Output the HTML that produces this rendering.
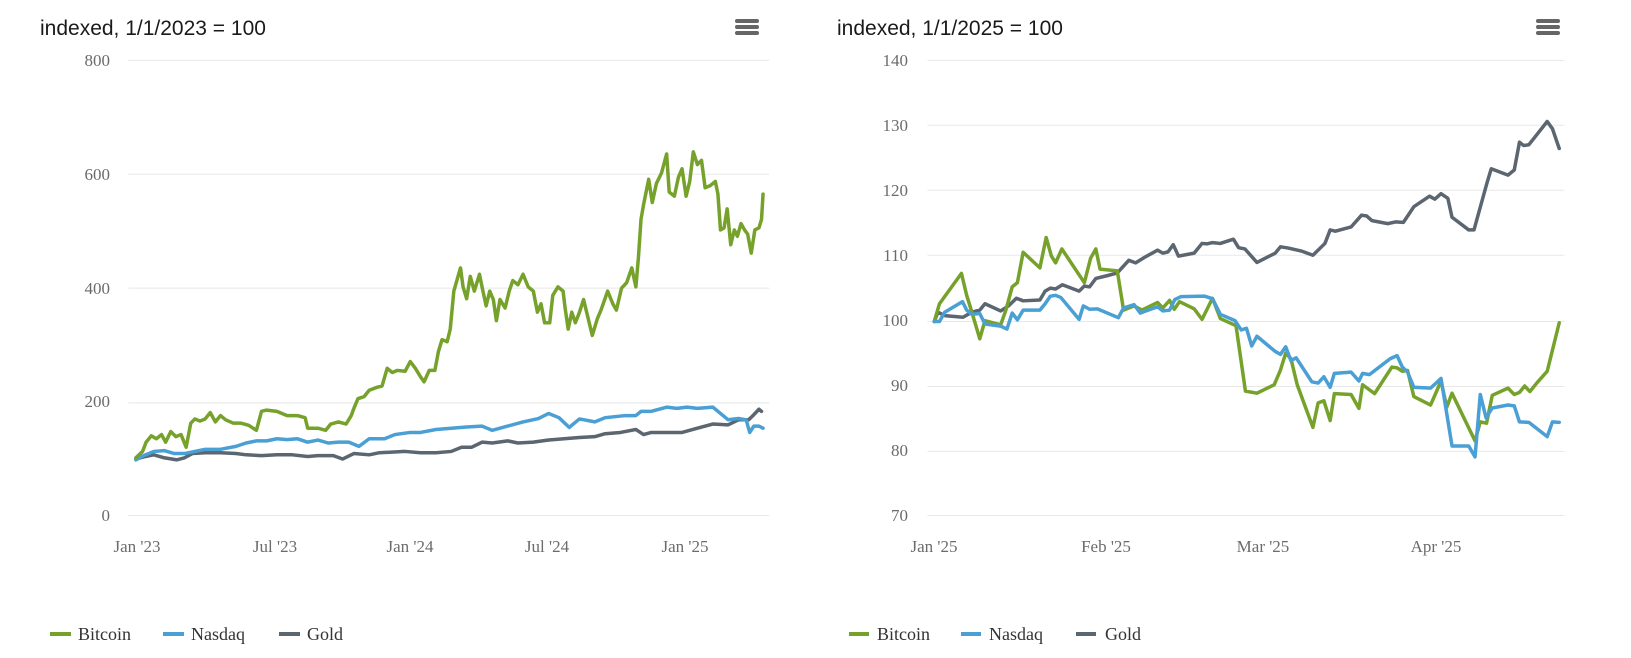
<!DOCTYPE html>
<html><head><meta charset="utf-8"><style>
html,body{margin:0;padding:0;background:#fff;}
svg{display:block;}
.t{font-family:"Liberation Sans",sans-serif;font-size:21px;fill:#1a1a1a;}
.ax{font-family:"Liberation Serif",serif;font-size:17px;fill:#6b6b6b;}
.lg{font-family:"Liberation Serif",serif;font-size:18px;fill:#333;}
.s{fill:none;stroke-width:3.5;stroke-linejoin:round;stroke-linecap:round;vector-effect:non-scaling-stroke;}
.g{stroke:#e8e8e8;stroke-width:1;vector-effect:non-scaling-stroke;}
</style></head><body>
<svg width="1631" height="658" viewBox="0 0 1631 658" xmlns="http://www.w3.org/2000/svg">
<rect width="1631" height="658" fill="#fff"/>
<!-- LEFT -->
<text class="t" x="40" y="35">indexed, 1/1/2023 = 100</text>
<g fill="#666"><rect x="735" y="19" width="24" height="4" rx="2"/><rect x="735" y="25" width="24" height="4" rx="2"/><rect x="735" y="31" width="24" height="4" rx="2"/></g>
<g transform="scale(0.5128,0.4219)">
<line class="g" x1="250" x2="1500" y1="143" y2="143"/><line class="g" x1="250" x2="1500" y1="413" y2="413"/><line class="g" x1="250" x2="1500" y1="683" y2="683"/><line class="g" x1="250" x2="1500" y1="955" y2="955"/><line class="g" x1="250" x2="1500" y1="1222" y2="1222"/>
<polyline class="s" stroke="#5b6670" points="265,1088 280,1083 300,1078 320,1085 345,1090 360,1085 375,1075 400,1073 430,1073 460,1075 480,1078 510,1080 540,1078 570,1078 600,1082 620,1080 650,1080 668,1088 690,1075 720,1078 740,1073 760,1072 790,1070 820,1073 850,1073 880,1070 900,1060 920,1060 940,1048 960,1050 990,1045 1010,1050 1040,1048 1070,1043 1100,1040 1130,1037 1160,1035 1180,1028 1210,1025 1240,1018 1255,1030 1270,1025 1300,1025 1330,1025 1360,1015 1390,1005 1420,1007 1440,995 1460,995 1470,983 1480,970 1485,975"/>
<polyline class="s" stroke="#4a9fd4" points="265,1090 280,1080 300,1070 320,1068 340,1075 360,1075 380,1070 400,1065 430,1065 460,1058 480,1050 500,1045 520,1045 540,1040 560,1042 580,1040 600,1048 620,1043 640,1050 660,1048 680,1048 700,1058 720,1040 750,1040 770,1030 800,1025 820,1025 850,1018 880,1015 910,1012 940,1010 960,1020 990,1010 1020,1000 1050,992 1070,980 1090,990 1110,1013 1130,993 1160,1000 1180,990 1220,985 1240,985 1250,975 1270,975 1300,965 1320,968 1340,965 1360,968 1390,965 1410,985 1420,995 1440,992 1455,995 1462,1025 1470,1010 1480,1010 1488,1015"/>
<polyline class="s" stroke="#76a22c" points="265,1085 278,1070 285,1048 295,1033 305,1040 315,1030 323,1048 333,1023 343,1035 353,1030 363,1060 372,1003 380,993 390,998 400,993 410,978 420,1000 430,985 440,995 455,1003 470,1003 485,1008 500,1020 510,975 520,972 540,975 560,985 580,985 595,990 600,1015 620,1015 635,1020 645,1005 660,1000 675,1005 685,985 690,968 698,945 710,940 720,925 735,918 745,915 755,873 765,883 775,878 790,880 800,857 810,873 820,893 827,905 837,878 848,878 855,833 862,805 872,810 878,780 885,690 898,635 903,680 910,708 917,655 925,690 935,650 940,680 948,725 955,690 962,710 968,760 975,710 985,730 993,690 1000,665 1010,675 1020,650 1030,680 1040,690 1048,740 1055,720 1062,765 1072,765 1078,700 1088,680 1098,690 1102,730 1108,780 1115,740 1122,765 1130,740 1138,710 1145,745 1155,795 1165,755 1172,735 1185,690 1195,720 1202,735 1212,683 1222,670 1232,635 1240,680 1245,610 1250,520 1255,485 1265,425 1272,480 1280,435 1290,410 1300,365 1305,455 1315,465 1323,420 1330,400 1338,465 1345,430 1352,360 1360,390 1368,380 1375,445 1385,440 1395,430 1400,460 1405,545 1412,540 1418,495 1425,580 1432,545 1438,560 1445,530 1452,545 1458,555 1465,600 1472,545 1480,540 1485,520 1488,460"/>
</g>
<g class="ax" text-anchor="end"><text x="110" y="66">800</text><text x="110" y="180">600</text><text x="110" y="294">400</text><text x="110" y="407">200</text><text x="110" y="521">0</text></g>
<g class="ax" text-anchor="middle"><text x="137" y="552">Jan '23</text><text x="275" y="552">Jul '23</text><text x="410" y="552">Jan '24</text><text x="547" y="552">Jul '24</text><text x="685" y="552">Jan '25</text></g>
<g><line x1="50" x2="71" y1="634" y2="634" stroke="#76a22c" stroke-width="4"/><text class="lg" x="78" y="640">Bitcoin</text>
<line x1="163" x2="184" y1="634" y2="634" stroke="#4a9fd4" stroke-width="4"/><text class="lg" x="191" y="640">Nasdaq</text>
<line x1="279" x2="300" y1="634" y2="634" stroke="#5b6670" stroke-width="4"/><text class="lg" x="307" y="640">Gold</text></g>

<!-- RIGHT -->
<text class="t" x="837" y="35">indexed, 1/1/2025 = 100</text>
<g fill="#666"><rect x="1536" y="19" width="24" height="4" rx="2"/><rect x="1536" y="25" width="24" height="4" rx="2"/><rect x="1536" y="31" width="24" height="4" rx="2"/></g>
<g transform="translate(815,0) scale(0.5230,0.4219)">
<line class="g" x1="215" x2="1433" y1="143" y2="143"/><line class="g" x1="215" x2="1433" y1="297" y2="297"/><line class="g" x1="215" x2="1433" y1="451" y2="451"/><line class="g" x1="215" x2="1433" y1="605" y2="605"/><line class="g" x1="215" x2="1433" y1="762" y2="762"/><line class="g" x1="215" x2="1433" y1="916" y2="916"/><line class="g" x1="215" x2="1433" y1="1070" y2="1070"/><line class="g" x1="215" x2="1433" y1="1222" y2="1222"/>
<polyline class="s" stroke="#5b6670" points="228,762 235,740 248,748 283,752 300,740 315,735 325,720 355,737 370,725 385,707 398,713 430,711 440,690 450,683 460,685 473,675 490,683 505,690 515,678 525,680 537,660 560,653 578,647 600,617 613,623 630,610 655,593 665,600 675,597 685,580 695,607 725,600 740,577 750,578 760,575 775,577 800,567 810,587 822,590 845,622 880,600 890,585 905,588 930,595 952,605 975,577 985,545 995,548 1025,538 1045,510 1055,512 1065,523 1095,530 1110,526 1125,527 1145,490 1175,465 1185,472 1197,459 1210,470 1218,515 1250,545 1260,545 1285,433 1293,400 1325,415 1337,403 1347,337 1355,345 1365,343 1400,288 1410,305 1423,352"/>
<polyline class="s" stroke="#76a22c" points="228,762 238,720 280,648 290,700 300,740 315,803 325,760 355,770 365,735 377,680 387,670 398,598 430,635 442,563 452,607 460,623 472,590 515,670 527,612 537,590 545,638 578,642 590,735 610,725 625,735 655,717 665,730 678,712 687,733 697,715 725,732 740,757 760,707 775,755 805,772 823,927 845,932 878,912 890,877 900,837 910,850 922,912 952,1013 962,955 973,950 985,997 993,933 1025,935 1040,968 1047,912 1070,933 1103,870 1113,872 1123,880 1133,878 1145,940 1177,960 1197,903 1208,965 1218,932 1262,1045 1272,1000 1284,1003 1295,937 1325,920 1337,935 1347,930 1357,915 1367,928 1380,908 1400,880 1423,765"/>
<polyline class="s" stroke="#4a9fd4" points="228,762 238,762 248,740 282,715 290,735 300,745 315,743 325,768 355,773 367,780 377,742 387,758 398,735 430,735 440,720 450,702 460,700 470,705 505,757 513,725 525,733 540,732 580,753 590,730 610,722 622,742 655,727 665,737 678,735 688,710 700,703 745,702 760,708 775,745 803,760 815,782 825,778 835,820 845,797 880,833 890,840 900,822 910,855 920,848 950,905 962,908 973,893 985,918 993,885 1025,882 1040,903 1047,885 1060,888 1100,850 1113,843 1123,870 1133,882 1145,918 1177,920 1197,897 1218,1057 1250,1057 1262,1083 1272,935 1283,990 1295,967 1325,960 1337,962 1347,1000 1365,1001 1400,1035 1410,1000 1423,1001"/>
</g>
<g class="ax" text-anchor="end"><text x="908" y="66">140</text><text x="908" y="131">130</text><text x="908" y="196">120</text><text x="908" y="261">110</text><text x="908" y="326">100</text><text x="908" y="391">90</text><text x="908" y="456">80</text><text x="908" y="521">70</text></g>
<g class="ax" text-anchor="middle"><text x="934" y="552">Jan '25</text><text x="1106" y="552">Feb '25</text><text x="1263" y="552">Mar '25</text><text x="1436" y="552">Apr '25</text></g>
<g><line x1="849" x2="869" y1="634" y2="634" stroke="#76a22c" stroke-width="4"/><text class="lg" x="877" y="640">Bitcoin</text>
<line x1="961" x2="981" y1="634" y2="634" stroke="#4a9fd4" stroke-width="4"/><text class="lg" x="989" y="640">Nasdaq</text>
<line x1="1076" x2="1096" y1="634" y2="634" stroke="#5b6670" stroke-width="4"/><text class="lg" x="1105" y="640">Gold</text></g>
</svg>
</body></html>
